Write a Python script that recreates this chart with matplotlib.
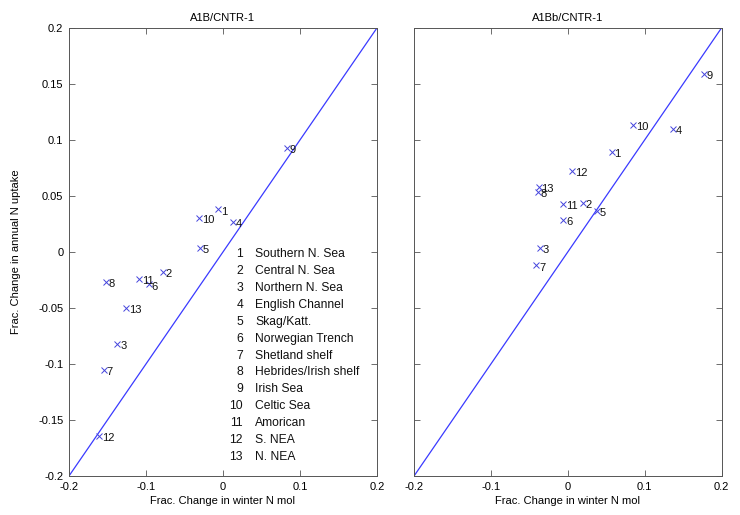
import matplotlib
matplotlib.use("Agg")
import matplotlib.pyplot as plt

plt.rcParams['font.family'] = ['Liberation Sans', 'DejaVu Sans']

region_ids = [1, 2, 3, 4, 5, 6, 7, 8, 9, 10, 11, 12, 13]
region_names = ["Southern N. Sea", "Central N. Sea", "Northern N. Sea", "English Channel",
                "Skag/Katt.", "Norwegian Trench", "Shetland shelf", "Hebrides/Irish shelf",
                "Irish Sea", "Celtic Sea", "Amorican", "S. NEA", "N. NEA"]

# A1B/CNTR-1
a1b_x = [-0.006, -0.078, -0.137, 0.013, -0.030, -0.096, -0.155, -0.152, 0.083, -0.031, -0.109, -0.161, -0.126]
a1b_y = [0.038, -0.018, -0.082, 0.027, 0.004, -0.029, -0.105, -0.027, 0.093, 0.030, -0.024, -0.164, -0.050]

# A1Bb/CNTR-1
a1bb_x = [0.057, 0.020, -0.036, 0.137, 0.038, -0.006, -0.041, -0.039, 0.177, 0.085, -0.006, 0.006, -0.038]
a1bb_y = [0.089, 0.044, 0.004, 0.110, 0.037, 0.029, -0.012, 0.054, 0.159, 0.113, 0.043, 0.072, 0.058]

titles = ["A1B/CNTR-1", "A1Bb/CNTR-1"]
xticks = [-0.2, -0.1, 0, 0.1, 0.2]
yticks = [-0.2, -0.15, -0.1, -0.05, 0, 0.05, 0.1, 0.15, 0.2]

fig = plt.figure(figsize=(7.4, 5.15), dpi=100)
ax1 = fig.add_axes([0.0932, 0.0757, 0.4162, 0.870])
ax2 = fig.add_axes([0.5595, 0.0757, 0.4155, 0.870])

spine_col = '#555555'
for ax, xs, ys, title in [(ax1, a1b_x, a1b_y, titles[0]), (ax2, a1bb_x, a1bb_y, titles[1])]:
    ax.plot([-0.2, 0.2], [-0.2, 0.2], color='#3a3aff', lw=0.9)
    ax.plot(xs, ys, linestyle='none', marker='x', color='#4444dd', markersize=4, mew=0.7)
    for rid, x, y in zip(region_ids, xs, ys):
        ax.annotate(str(rid), (x, y), xytext=(2, -1.5), textcoords='offset points',
                    fontsize=8, va='center', ha='left', color='#111111')
    ax.set_xlim(-0.2, 0.2)
    ax.set_ylim(-0.2, 0.2)
    ax.set_xticks(xticks)
    ax.set_xticklabels(['%g' % t for t in xticks])
    ax.set_yticks(yticks)
    ax.tick_params(direction='in', top=True, right=True, length=4, width=0.6,
                   labelsize=8, color=spine_col, pad=4)
    for s in ax.spines.values():
        s.set_color(spine_col)
        s.set_linewidth(0.7)
    ax.set_title(title, fontsize=8, pad=5)
    ax.set_xlabel("Frac. Change in winter N mol", fontsize=8, labelpad=3)

ax1.set_yticklabels(['%g' % t for t in yticks])
ax2.set_yticklabels([])
ax1.set_ylabel("Frac. Change in annual N uptake", fontsize=8, labelpad=12)

# legend-like listing of region names
leg_y0 = -0.002
leg_dy = 0.01507
for i, (rid, name) in enumerate(zip(region_ids, region_names)):
    yy = leg_y0 - i * leg_dy
    ax1.text(0.026, yy, str(rid), fontsize=8.7, ha='right', va='center', color='#111111')
    ax1.text(0.042, yy, name, fontsize=8.7, ha='left', va='center', color='#111111')

fig.savefig("out.png", dpi=100)
